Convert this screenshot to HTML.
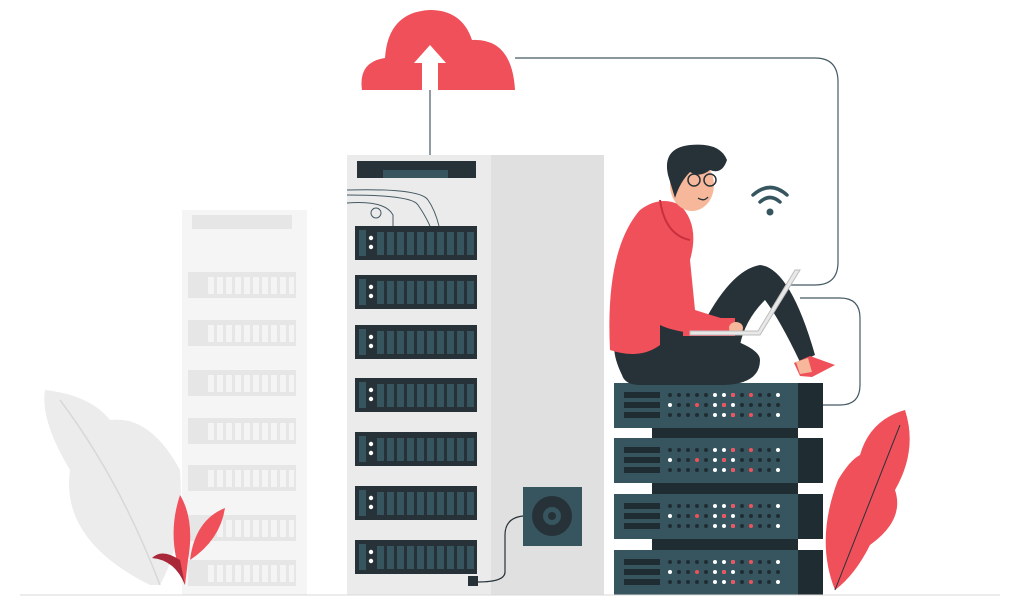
<!DOCTYPE html>
<html><head><style>
html,body{margin:0;padding:0;background:#fff;width:1024px;height:597px;overflow:hidden}
</style></head><body>
<svg width="1024" height="597" viewBox="0 0 1024 597" xmlns="http://www.w3.org/2000/svg">
<defs>
<g id="unit">
<rect x="0" y="0" width="122" height="34" fill="#263238"/>
<rect x="4" y="4" width="7" height="26" fill="#37555f"/>
<circle cx="16" cy="12" r="2.2" fill="#fff"/><circle cx="16" cy="21" r="2.2" fill="#fff"/>
<g fill="#37555f">
<rect x="22" y="6" width="7" height="23"/><rect x="32" y="6" width="7" height="23"/><rect x="42" y="6" width="7" height="23"/><rect x="52" y="6" width="7" height="23"/><rect x="62" y="6" width="7" height="23"/><rect x="72" y="6" width="7" height="23"/><rect x="82" y="6" width="7" height="23"/><rect x="92" y="6" width="7" height="23"/><rect x="102" y="6" width="7" height="23"/><rect x="112" y="6" width="7" height="23"/>
</g></g>
<g id="funit">
<rect x="0" y="0" width="108" height="26" fill="#e6e6e6"/>
<g fill="#f4f4f4"><rect x="20" y="5" width="6" height="17"/><rect x="29" y="5" width="6" height="17"/><rect x="38" y="5" width="6" height="17"/><rect x="47" y="5" width="6" height="17"/><rect x="56" y="5" width="6" height="17"/><rect x="65" y="5" width="6" height="17"/><rect x="74" y="5" width="6" height="17"/><rect x="83" y="5" width="6" height="17"/><rect x="92" y="5" width="6" height="17"/><rect x="101" y="5" width="5" height="17"/></g>
</g>
<g id="sunit">
<rect x="0" y="0" width="184" height="45" fill="#37555f"/>
<rect x="184" y="0" width="25" height="45" fill="#1f2d33"/>
<rect x="10" y="9" width="36" height="6" fill="#1f2d33"/><rect x="10" y="19" width="36" height="6" fill="#1f2d33"/><rect x="10" y="29" width="36" height="6" fill="#1f2d33"/>
<g fill="#1f2d33"><circle cx="56" cy="12" r="2"/><circle cx="65" cy="12" r="2"/><circle cx="74" cy="12" r="2"/><circle cx="83" cy="12" r="2"/><circle cx="92" cy="12" r="2"/><circle cx="128" cy="12" r="2"/><circle cx="146" cy="12" r="2"/><circle cx="155" cy="12" r="2"/>
<circle cx="65" cy="22" r="2"/><circle cx="74" cy="22" r="2"/><circle cx="92" cy="22" r="2"/><circle cx="128" cy="22" r="2"/><circle cx="137" cy="22" r="2"/><circle cx="146" cy="22" r="2"/><circle cx="155" cy="22" r="2"/><circle cx="164" cy="22" r="2"/>
<circle cx="56" cy="32" r="2"/><circle cx="65" cy="32" r="2"/><circle cx="74" cy="32" r="2"/><circle cx="83" cy="32" r="2"/><circle cx="92" cy="32" r="2"/><circle cx="128" cy="32" r="2"/><circle cx="146" cy="32" r="2"/><circle cx="155" cy="32" r="2"/></g>
<g fill="#fff"><circle cx="101" cy="12" r="2"/><circle cx="110" cy="12" r="2"/><circle cx="119" cy="12" r="2"/><circle cx="164" cy="12" r="2"/><circle cx="56" cy="22" r="2"/><circle cx="101" cy="22" r="2"/><circle cx="110" cy="22" r="2"/><circle cx="119" cy="22" r="2"/><circle cx="101" cy="32" r="2"/><circle cx="110" cy="32" r="2"/><circle cx="119" cy="32" r="2"/><circle cx="164" cy="32" r="2"/></g>
<g fill="#f0505a"><circle cx="119" cy="12" r="2"/><circle cx="137" cy="12" r="2"/><circle cx="83" cy="22" r="2"/><circle cx="110" cy="22" r="2"/><circle cx="119" cy="32" r="2"/><circle cx="137" cy="32" r="2"/></g>
</g>
</defs>

<!-- connector lines -->
<path d="M515 58 H815 Q838 58 838 82 V262 Q838 285 815 285 H790" fill="none" stroke="#455a64" stroke-width="1.2"/>
<path d="M800 298 H840 Q860 298 860 318 V385 Q860 405 840 405 H822" fill="none" stroke="#455a64" stroke-width="1.2"/>
<line x1="430" y1="88" x2="430" y2="156" stroke="#455a64" stroke-width="1.2"/>

<!-- cloud -->
<path d="M362 90 Q358 62 385 58 Q388 12 430 10 Q462 10 472 40 Q512 38 515 90 Z" fill="#f0505a"/>
<path d="M430 45 L446 63 H438 V90 H422 V63 H414 Z" fill="#fff"/>

<!-- grey leaves left -->
<path d="M150 585 Q60 540 70 470 Q40 420 45 390 Q90 395 110 420 Q150 415 180 470 Q185 540 160 585 Z" fill="#ececec"/>
<path d="M160 585 Q120 480 60 400" stroke="#d8d8d8" fill="none" stroke-width="1.5"/>

<!-- faded server -->
<rect x="182" y="210" width="125" height="385" fill="#f5f5f5"/>
<rect x="192" y="215" width="100" height="14" fill="#e6e6e6"/>
<g><use href="#funit" x="188" y="272"/><use href="#funit" x="188" y="320"/><use href="#funit" x="188" y="370"/><use href="#funit" x="188" y="418"/><use href="#funit" x="188" y="465"/><use href="#funit" x="188" y="515"/><use href="#funit" x="188" y="560"/></g>

<!-- main server -->
<rect x="347" y="155" width="144" height="440" fill="#ebebeb"/>
<rect x="491" y="155" width="113" height="440" fill="#e0e0e0"/>
<rect x="357" y="161" width="119" height="17" fill="#263238"/>
<rect x="383" y="170" width="65" height="8" fill="#37555f"/>
<path d="M347 190 Q420 188 428 200 Q435 210 439 226 M347 195 Q412 195 418 205 Q425 215 430 226 M347 203 Q385 200 393 215 V226" fill="none" stroke="#455a64" stroke-width="1"/>
<circle cx="376" cy="213" r="5" fill="none" stroke="#455a64" stroke-width="1"/>
<use href="#unit" x="355" y="226"/><use href="#unit" x="355" y="275"/><use href="#unit" x="355" y="325"/><use href="#unit" x="355" y="378"/><use href="#unit" x="355" y="432"/><use href="#unit" x="355" y="486"/><use href="#unit" x="355" y="540"/>

<!-- speaker -->
<rect x="523" y="487" width="59" height="59" fill="#37555f"/>
<circle cx="552" cy="516" r="20" fill="#263238"/><circle cx="552" cy="516" r="9" fill="#37555f"/><circle cx="552" cy="516" r="4" fill="#263238"/>
<path d="M523 516 Q505 518 505 535 V572 Q505 582 478 582" fill="none" stroke="#263238" stroke-width="1.2"/>
<rect x="468" y="576" width="10" height="10" fill="#263238"/>

<!-- red small leaves -->
<path d="M185 585 Q165 540 180 495 Q195 520 188 560 Z" fill="#f0505a"/>
<path d="M190 560 Q195 520 225 508 Q220 540 190 560Z" fill="#f0505a"/>
<path d="M185 585 Q175 560 152 558 Q162 548 180 560 Z" fill="#a8283a"/>

<!-- right red leaf -->
<path d="M835 590 Q815 540 838 480 Q850 460 860 455 Q870 420 905 410 Q918 450 895 490 Q905 520 870 545 Q855 575 835 590 Z" fill="#f0505a"/>
<path d="M835 590 L900 425" stroke="#263238" stroke-width="1"/>

<!-- server stack -->
<use href="#sunit" x="614" y="383"/><use href="#sunit" x="614" y="438"/><use href="#sunit" x="614" y="494"/><use href="#sunit" x="614" y="550"/>
<rect x="652" y="428" width="146" height="10" fill="#1f2d33"/><rect x="652" y="483" width="146" height="11" fill="#1f2d33"/><rect x="652" y="539" width="146" height="11" fill="#1f2d33"/>

<!-- person -->
<path d="M622 375 Q600 330 640 320 L700 330 Q760 345 760 360 Q760 385 720 385 H640 Q625 385 622 375Z" fill="#263238"/>
<path d="M700 330 Q730 270 760 265 Q790 268 815 355 L800 362 Q780 320 765 300 Q745 320 740 345 Z" fill="#263238"/>
<path d="M610 350 Q605 250 640 210 Q660 195 680 205 Q700 225 690 260 L695 310 Q720 318 735 322 L732 335 Q680 335 660 325 L660 345 Q640 360 610 350Z" fill="#f0505a"/>
<path d="M660 200 Q665 235 690 240" fill="none" stroke="#c8303d" stroke-width="2"/>
<rect x="683" y="318" width="52" height="18" fill="#f0505a"/>
<ellipse cx="736" cy="328" rx="7" ry="6" fill="#f7b79a"/>
<path d="M690 335 L760 335 L800 270 L795 270 L758 331 L690 331 Z" fill="#e8e8e8" stroke="#bdbdbd" stroke-width="1"/>
<path d="M794 363 L810 356 L835 365 L812 377 L800 376 Z" fill="#f0505a"/>
<path d="M796 362 L808 358 L812 372 L800 374Z" fill="#f7b79a"/>
<ellipse cx="692" cy="185" rx="22" ry="26" fill="#f7b79a"/>
<path d="M668 175 Q662 148 690 145 Q720 142 727 160 Q722 175 710 170 Q700 178 690 172 Q680 182 675 198 Z" fill="#263238"/>
<circle cx="694" cy="180" r="6" fill="none" stroke="#263238" stroke-width="1.5"/>
<circle cx="710" cy="180" r="6" fill="none" stroke="#263238" stroke-width="1.5"/>
<path d="M698 198 Q704 202 708 197" fill="none" stroke="#263238" stroke-width="1.3"/>

<!-- wifi -->
<g fill="none" stroke="#37555f" stroke-width="3.5" stroke-linecap="round">
<path d="M753 195 Q770 180 787 195"/><path d="M760 202 Q770 193 780 202"/></g>
<circle cx="770" cy="212" r="3.5" fill="#37555f"/>

<line x1="20" y1="595" x2="1000" y2="595" stroke="#d8d8d8" stroke-width="1"/>
</svg>
</body></html>
